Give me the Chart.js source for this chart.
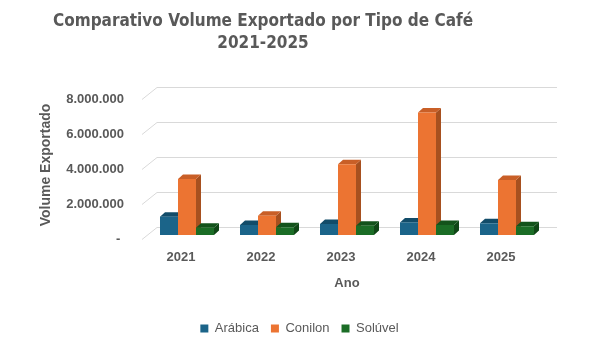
<!DOCTYPE html>
<html lang="pt-BR">
<head>
<meta charset="utf-8">
<title>Comparativo Volume Exportado por Tipo de Café</title>
<script src="https://cdn.jsdelivr.net/npm/chart.js@4.4.1/dist/chart.umd.min.js"></script>
<style>
    html, body { margin: 0; padding: 0; background: #ffffff; }
    #grafico { display: block; }
</style>
</head>
<body>
<canvas id="grafico" width="590" height="337"></canvas>
<script>
// Dados do gráfico
const anos = ['2021', '2022', '2023', '2024', '2025'];
const arabica = [1050000, 570000, 630000, 720000, 670000];
const conilon = [3200000, 1100000, 4040000, 7000000, 3140000];
const soluvel = [420000, 440000, 530000, 570000, 500000];
const escalaY = [0, 2000000, 4000000, 6000000, 8000000];

// Cores de cada série: frente, topo, lateral
const cores = {
    arabica: ['#1b6489', '#124c69', '#0f425b'],
    conilon: ['#ec7432', '#c95f27', '#a7501f'],
    soluvel: ['#1b6d26', '#13531b', '#0f4616']
};

const CINZA_TEXTO = '#595959';
const FONTE = "'Liberation Sans', Arial, sans-serif";

// Profundidade das colunas e da parede do fundo
const PROF_BARRA = { dx: 5, dy: 4.5 };
const PAREDE = { frenteX: -5, frenteY: 4, fundoX: 10, fundoY: -8 };

// Deslocamento horizontal do título e da legenda
const DESLOCA_TITULO = -10.5;
const DESLOCA_LEGENDA = 26;

document.addEventListener('DOMContentLoaded', function() {
    initializeChart();
});

// Formatar números no padrão brasileiro (zero vira traço)
function formatarNumero(valor) {
    if (valor === 0) return '- ';
    return String(valor).replace(/\B(?=(\d{3})+(?!\d))/g, '.');
}

// Centralizar título e legenda como no Excel
const ajusteCaixas = {
    id: 'ajusteCaixas',
    afterLayout(chart) {
        chart.titleBlock.left += DESLOCA_TITULO;
        chart.titleBlock.right += DESLOCA_TITULO;
        chart.legend.left += DESLOCA_LEGENDA;
        chart.legend.right += DESLOCA_LEGENDA;
    }
};

// Linhas de grade em perspectiva (parede do fundo + diagonal à esquerda)
const gradePerspectiva = {
    id: 'gradePerspectiva',
    beforeDatasetsDraw(chart) {
        const ctx = chart.ctx;
        const y = chart.scales.y;
        const area = chart.chartArea;
        ctx.save();
        ctx.strokeStyle = '#d9d9d9';
        ctx.lineWidth = 1;
        escalaY.forEach(v => {
            const py = Math.round(y.getPixelForValue(v)) + 0.5;
            ctx.beginPath();
            ctx.moveTo(area.left + PAREDE.frenteX, py + PAREDE.frenteY);
            ctx.lineTo(area.left + PAREDE.fundoX, py + PAREDE.fundoY);
            ctx.lineTo(area.right + PAREDE.fundoX, py + PAREDE.fundoY);
            ctx.stroke();
        });
        ctx.restore();
    }
};

// Faces do topo e da lateral das colunas (a frente é desenhada pelo Chart.js)
const colunas3d = {
    id: 'colunas3d',
    beforeDatasetsDraw(chart) {
        const ctx = chart.ctx;
        const metas = chart.getSortedVisibleDatasetMetas().sort((a, b) => a.index - b.index);
        const { dx, dy } = PROF_BARRA;
        ctx.save();
        for (let i = 0; i < anos.length; i++) {
            metas.forEach(meta => {
                const barra = meta.data[i];
                const ds = chart.data.datasets[meta.index];
                const { x, y, base, width } = barra.getProps(['x', 'y', 'base', 'width'], true);
                const esq = x - width / 2;
                const dir = x + width / 2;

                // lateral
                ctx.fillStyle = ds.corLateral;
                ctx.beginPath();
                ctx.moveTo(dir, y);
                ctx.lineTo(dir + dx, y - dy);
                ctx.lineTo(dir + dx, base - dy);
                ctx.lineTo(dir, base);
                ctx.closePath();
                ctx.fill();

                // topo
                ctx.fillStyle = ds.corTopo;
                ctx.beginPath();
                ctx.moveTo(esq, y);
                ctx.lineTo(esq + dx, y - dy);
                ctx.lineTo(dir + dx, y - dy);
                ctx.lineTo(dir, y);
                ctx.closePath();
                ctx.fill();
            });
        }
        ctx.restore();
    }
};

function serie(label, dados, [frente, topo, lateral]) {
    return {
        label: label,
        data: dados,
        backgroundColor: frente,
        corTopo: topo,
        corLateral: lateral,
        borderWidth: 0,
        barPercentage: 1,
        categoryPercentage: 0.675
    };
}

function initializeChart() {
    const ctx = document.getElementById('grafico').getContext('2d');
    new Chart(ctx, {
        type: 'bar',
        data: {
            labels: anos,
            datasets: [
                serie('Arábica', arabica, cores.arabica),
                serie('Conilon', conilon, cores.conilon),
                serie('Solúvel', soluvel, cores.soluvel)
            ]
        },
        plugins: [ajusteCaixas, gradePerspectiva, colunas3d],
        options: {
            responsive: false,
            animation: false,
            layout: {
                padding: { left: 0, right: 43, top: 0, bottom: -8 }
            },
            plugins: {
                title: {
                    display: true,
                    text: ['Comparativo Volume Exportado por Tipo de Café', '2021-2025'],
                    color: CINZA_TEXTO,
                    font: {
                        family: "'Liberation Sans Narrow', 'DejaVu Sans Condensed', Roboto, sans-serif",
                        size: 17,
                        weight: 'bold',
                        lineHeight: '22px'
                    },
                    padding: { top: 10.5, bottom: 40.5 }
                },
                legend: {
                    position: 'bottom',
                    labels: {
                        color: CINZA_TEXTO,
                        boxWidth: 8,
                        boxHeight: 8,
                        padding: 12,
                        font: { family: FONTE, size: 13 }
                    }
                },
                tooltip: { enabled: false }
            },
            scales: {
                x: {
                    grid: { display: false, drawTicks: false },
                    border: { display: false },
                    ticks: {
                        color: CINZA_TEXTO,
                        padding: 15,
                        labelOffset: -6,
                        font: { family: FONTE, size: 13, weight: 'bold' }
                    },
                    title: {
                        display: true,
                        text: 'Ano',
                        color: CINZA_TEXTO,
                        font: { family: FONTE, size: 13, weight: 'bold' },
                        padding: { top: 4, bottom: 19 }
                    },
                    afterFit: scale => { scale.height = 75; }
                },
                y: {
                    min: 0,
                    max: 8000000,
                    grid: { display: false, drawTicks: false },
                    border: { display: false },
                    afterBuildTicks: scale => {
                        scale.ticks = escalaY.map(v => ({ value: v }));
                    },
                    ticks: {
                        color: CINZA_TEXTO,
                        padding: 23,
                        labelOffset: 4,
                        font: { family: FONTE, size: 13, weight: 'bold' },
                        callback: value => formatarNumero(value)
                    },
                    title: {
                        display: true,
                        text: 'Volume Exportado',
                        color: CINZA_TEXTO,
                        font: { family: FONTE, size: 14, weight: 'bold' },
                        padding: { top: 38, bottom: 4 }
                    },
                    afterFit: scale => { scale.width = 147; }
                }
            }
        }
    });
}
</script>
</body>
</html>
